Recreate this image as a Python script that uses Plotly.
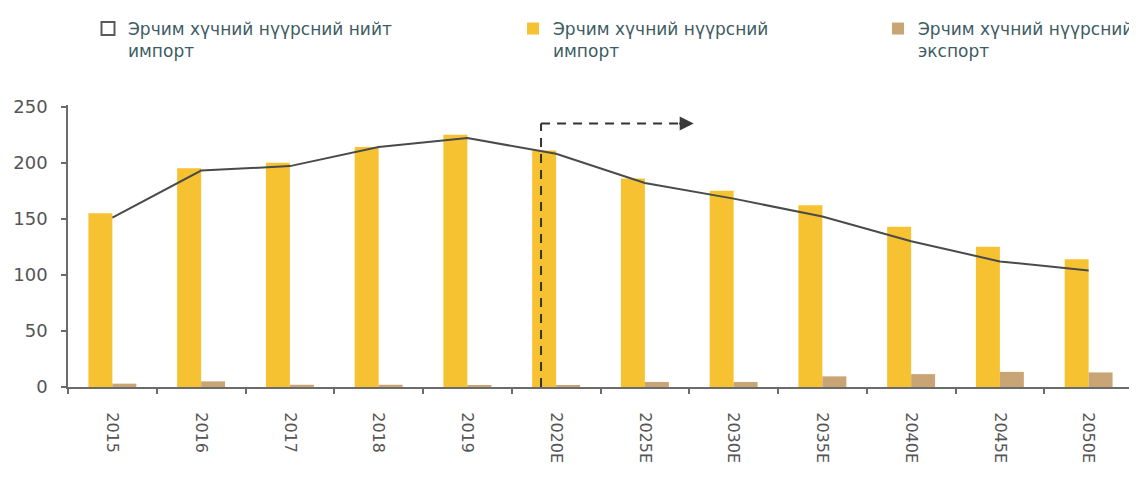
import plotly.graph_objects as go

years = ["2015", "2016", "2017", "2018", "2019", "2020E",
         "2025E", "2030E", "2035E", "2040E", "2045E", "2050E"]
import_vals = [155, 195, 200, 214, 225, 211, 186, 175, 162, 143, 125, 114]
export_vals = [3, 5, 2, 2, 1, 1, 4.5, 4.5, 9.5, 11.5, 13.5, 13]
net_import = [151, 193, 197, 214, 222, 208, 182, 168, 152, 130, 112, 104]

name_net = "Эрчим хүчний нүүрсний нийт<br>импорт"
name_imp = "Эрчим хүчний нүүрсний<br>импорт"
name_exp = "Эрчим хүчний нүүрсний<br>экспорт"

# forecast marker (category index units / y units)
fc_x0, fc_x1, fc_top = 4.83, 6.55, 235

YELLOW = "#F6C232"
TAN = "#C9A575"
LINE = "#4a4a4a"
AXIS = "#6b6b6b"
TXT = "#3d5c63"

# page has an 8px body margin -> figure is shrunk and shifted accordingly
W, H = 1137 - 8, 484 - 8

fig = go.Figure()

fig.add_trace(go.Bar(x=years, y=import_vals, name=name_imp, marker_color=YELLOW,
                     marker_line_width=0, legend="legend2"))
fig.add_trace(go.Bar(x=years, y=export_vals, name=name_exp, marker_color=TAN,
                     marker_line_width=0, legend="legend3"))
fig.add_trace(go.Scatter(x=years, y=net_import, mode="lines", showlegend=False,
                         line=dict(color=LINE, width=2)))
# legend icon for the net line (open square as in the source)
fig.add_trace(go.Scatter(x=[None], y=[None], mode="markers", name=name_net,
                         marker=dict(symbol="square-open", size=13,
                                     color="#5a5a5a", line=dict(width=2)),
                         legend="legend"))

# dashed forecast marker with arrow head
fig.add_shape(type="line", x0=fc_x0, x1=fc_x0, y0=0, y1=fc_top, xref="x", yref="y",
              line=dict(color="#333333", width=2, dash="9px,7px"))
fig.add_shape(type="line", x0=fc_x0, x1=fc_x1 - 0.15, y0=fc_top, y1=fc_top,
              xref="x", yref="y", line=dict(color="#333333", width=2, dash="9px,7px"))
fig.add_annotation(x=fc_x1, y=fc_top, xref="x", yref="y", ax=-16, ay=0,
                   showarrow=True, arrowhead=2, arrowsize=1.4, arrowwidth=2,
                   arrowcolor="#3a3a3a", text="")

leg_common = dict(orientation="h", xref="container", yref="container", y=1 - 3 / H,
                  yanchor="top", xanchor="left", valign="top", itemwidth=30,
                  font=dict(family="DejaVu Sans", size=17, color=TXT),
                  bgcolor="rgba(0,0,0,0)")

fig.update_layout(
    width=W, height=H,
    margin=dict(l=60, r=4, t=97, b=97),
    paper_bgcolor="white", plot_bgcolor="white",
    barmode="group", bargap=0.46, bargroupgap=0,
    font=dict(family="DejaVu Sans", color="#555555"),
    legend=dict(x=80 / W, **leg_common),
    legend2=dict(x=505 / W, **leg_common),
    legend3=dict(x=870 / W, **leg_common),
    xaxis=dict(type="category", showline=True, linecolor=AXIS, linewidth=2,
               ticks="outside", ticklen=5, tickcolor=AXIS, tickwidth=1.5,
               tickson="boundaries", tickangle=90, ticklabelstandoff=20,
               tickfont=dict(size=16, color="#555555"), showgrid=False),
    yaxis=dict(range=[0, 251.5], tickvals=[0, 50, 100, 150, 200, 250],
               showline=True, linecolor=AXIS, linewidth=1.5,
               ticks="outside", ticklen=5, tickcolor=AXIS, tickwidth=1.5,
               ticklabelstandoff=10, tickfont=dict(size=18, color="#555555"),
               showgrid=False, zeroline=False),
)

fig.write_html("out.html")
